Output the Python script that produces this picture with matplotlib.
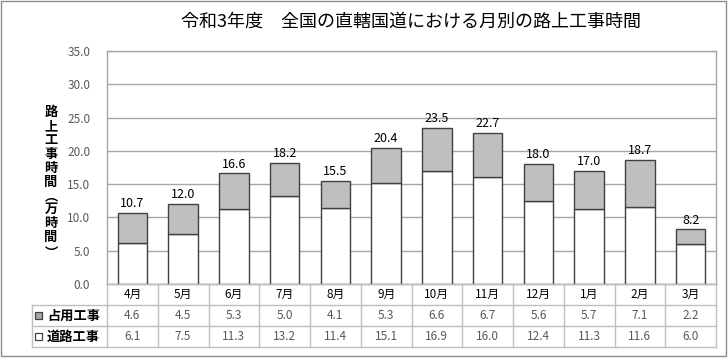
import matplotlib
matplotlib.use("Agg")
import matplotlib.pyplot as plt
from matplotlib.transforms import blended_transform_factory
from matplotlib.patches import Rectangle
from matplotlib.lines import Line2D

plt.rcParams['font.family'] = ['Noto Sans CJK JP', 'DejaVu Sans']

months = ["4月", "5月", "6月", "7月", "8月", "9月", "10月", "11月", "12月", "1月", "2月", "3月"]
senyo = [4.6, 4.5, 5.3, 5.0, 4.1, 5.3, 6.6, 6.7, 5.6, 5.7, 7.1, 2.2]
doro = [6.1, 7.5, 11.3, 13.2, 11.4, 15.1, 16.9, 16.0, 12.4, 11.3, 11.6, 6.0]
totals = [10.7, 12.0, 16.6, 18.2, 15.5, 20.4, 23.5, 22.7, 18.0, 17.0, 18.7, 8.2]
series_names = ["占用工事", "道路工事"]
title = "令和3年度　全国の直轄国道における月別の路上工事時間"
ylabel_chars = list("路上工事時間") + ["︵", "万", "時", "間", "︶"]
yticks = [0, 5, 10, 15, 20, 25, 30, 35]

W, H = 728, 358
fig = plt.figure(figsize=(W / 100, H / 100), dpi=100)
fig.patch.set_facecolor("white")

def fx(px):
    return px / W

def fy(py):
    return 1 - py / H

ax_l, ax_r, ax_t, ax_b = 107, 716, 51, 284
ax = fig.add_axes([fx(ax_l), fy(ax_b), fx(ax_r - ax_l), (ax_b - ax_t) / H])

x = list(range(len(months)))
edge = "#404040"
ax.bar(x, doro, width=0.58, color="white", edgecolor=edge, linewidth=1.0, zorder=3)
ax.bar(x, senyo, bottom=doro, width=0.58, color="#bfbfbf", edgecolor=edge, linewidth=1.0, zorder=3)

for xi, t in zip(x, totals):
    ax.annotate(f"{t:.1f}", (xi, t), xytext=(0, 2), textcoords="offset points",
                ha="center", va="bottom", fontsize=9, color="black", zorder=4)

ax.set_xlim(-0.5, len(months) - 0.5)
ax.set_ylim(0, 35)
ax.set_yticks(yticks)
ax.set_yticklabels([f"{v:.1f}" for v in yticks], fontsize=8.5, color="#595959")
ax.tick_params(axis="y", length=0, pad=12)
ax.set_xticks([])
ax.grid(axis="y", color="#a6a6a6", linewidth=1.0, zorder=0)
for s in ax.spines.values():
    s.set_color("#a6a6a6")
    s.set_linewidth(1.0)

# Title
fig.text(fx(411), fy(22), title, ha="center", va="center", fontsize=13, color="black")

# Vertical y label
ys = [112, 126, 140, 154, 168, 182, 196, 209, 223, 237, 253]
for ch, yy in zip(ylabel_chars, ys):
    fig.text(fx(51), fy(yy), ch, ha="center", va="center", fontsize=9.5,
             color="black", fontweight="bold")

# Data table below the axis
tr = blended_transform_factory(ax.transData, fig.transFigure)
tf = fig.transFigure
line_c = "#bfbfbf"
row_edges = [284, 305, 326, 347]
leg_l = 32

fig.add_artist(Line2D([fx(ax_l), fx(ax_r)], [fy(284), fy(284)], color=line_c, lw=1, transform=tf))
for ry in row_edges[1:]:
    fig.add_artist(Line2D([fx(leg_l), fx(ax_r)], [fy(ry), fy(ry)], color=line_c, lw=1, transform=tf))
for b in [i - 0.5 for i in range(len(months) + 1)]:
    fig.add_artist(Line2D([b, b], [fy(284), fy(347)], color=line_c, lw=1, transform=tr))
fig.add_artist(Line2D([fx(leg_l), fx(leg_l)], [fy(305), fy(347)], color=line_c, lw=1, transform=tf))

for xi, m, s1, s2 in zip(x, months, senyo, doro):
    fig.text(xi, fy(294.5), m, transform=tr, ha="center", va="center", fontsize=8.5, color="black")
    fig.text(xi, fy(315.5), f"{s1:.1f}", transform=tr, ha="center", va="center", fontsize=8.5, color="#595959")
    fig.text(xi, fy(336.5), f"{s2:.1f}", transform=tr, ha="center", va="center", fontsize=8.5, color="#595959")

for name, fc, cy in zip(series_names, ["#a6a6a6", "white"], [315.5, 336.5]):
    fig.add_artist(Rectangle((fx(35), fy(cy + 3.5)), fx(7), 7 / H, facecolor=fc,
                             edgecolor="#404040", lw=0.9, transform=tf))
    fig.text(fx(47), fy(cy), name, ha="left", va="center", fontsize=9.5,
             color="black", fontweight="bold")

fig.add_artist(Rectangle((fx(1), fy(356)), fx(725), 355 / H, facecolor="none",
                         edgecolor="#8c8c8c", lw=1, transform=tf))

fig.savefig("out.png", dpi=100)
